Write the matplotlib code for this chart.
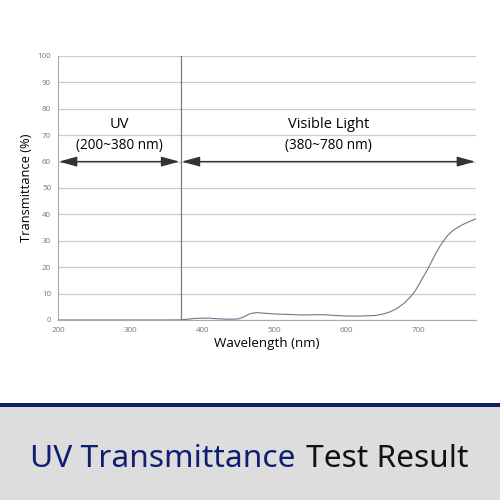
import matplotlib.pyplot as plt
from matplotlib.patches import Rectangle

# transmittance curve
wavelength = [200, 250, 300, 350, 370, 380, 390, 400, 410, 420, 430, 440, 450,
              458, 465, 470, 476, 485, 500, 520, 540, 560, 570, 580, 600, 620,
              640, 650, 660, 670, 680, 690, 695, 700, 705, 710, 715, 720, 725,
              730, 735, 740, 745, 750, 755, 760, 765, 770, 775, 780]
transmittance = [0, 0, 0, 0, 0.05, 0.3, 0.6, 0.7, 0.7, 0.5, 0.35, 0.3, 0.4,
                 1.2, 2.2, 2.6, 2.8, 2.6, 2.3, 2.1, 1.9, 2.0, 2.0, 1.8, 1.5, 1.5,
                 1.7, 2.2, 3.0, 4.3, 6.3, 9.0, 10.8, 13.0, 15.5, 17.8, 20.3, 23.0,
                 25.6, 28.0, 30.0, 31.8, 33.2, 34.3, 35.1, 35.9, 36.6, 37.2, 37.8, 38.3]

x_ticks = [200, 300, 400, 500, 600, 700]
y_ticks = list(range(0, 101, 10))
boundary = 370
arrow_level = 60

FONT = ["Open Sans", "DejaVu Sans"]

fig = plt.figure(figsize=(5, 5), dpi=100)
ax = fig.add_axes([0.116, 0.36, 0.836, 0.528])

ax.plot(wavelength, transmittance, color="#6b7890", lw=0.8, zorder=3)
ax.axvline(boundary, color="#7a7a7a", lw=0.9, zorder=2)

ax.set_xlim(200, 780)
ax.set_ylim(0, 100)
ax.set_xticks(x_ticks)
ax.set_yticks(y_ticks)
ax.tick_params(length=0, labelsize=5.8, labelcolor="#777777", pad=5)
for lbl in ax.get_xticklabels() + ax.get_yticklabels():
    lbl.set_family(FONT)
ax.grid(axis="y", color="#cccccc", lw=0.9)
for side in ["top", "right"]:
    ax.spines[side].set_visible(False)
for side in ["left", "bottom"]:
    ax.spines[side].set_color("#aaaaaa")
    ax.spines[side].set_linewidth(0.8)

ax.set_ylabel("Transmittance (%)", family=FONT, fontsize=9.3, labelpad=3)
ax.set_xlabel("Wavelength (nm)", family=FONT, fontsize=9.6, labelpad=2)

arrow = dict(arrowstyle="<|-|>,head_length=1.1,head_width=0.3", color="#333333",
             lw=1.0, shrinkA=0, shrinkB=0)
ax.annotate("", xy=(201, arrow_level), xytext=(boundary - 1.5, arrow_level), arrowprops=arrow)
ax.annotate("", xy=(boundary + 1.5, arrow_level), xytext=(779, arrow_level), arrowprops=arrow)

ax.text(285, 74, "UV", ha="center", va="center", family=FONT, fontsize=10.5)
ax.text(285, 66, "(200~380 nm)", ha="center", va="center", family=FONT, fontsize=9.8)
ax.text(575, 74, "Visible Light", ha="center", va="center", family=FONT, fontsize=10.5)
ax.text(575, 66, "(380~780 nm)", ha="center", va="center", family=FONT, fontsize=9.8)

# bottom banner
fig.patches.append(Rectangle((0, 0), 1, 0.186, transform=fig.transFigure,
                             facecolor="#dddddd", edgecolor="none"))
fig.patches.append(Rectangle((0, 0.186), 1, 0.008, transform=fig.transFigure,
                             facecolor="#0d1f6b", edgecolor="none"))
fig.text(0.592, 0.066, "UV Transmittance", ha="right", va="baseline",
         family=["Noto Sans", "DejaVu Sans"], fontsize=22.8, color="#0f1d72")
fig.text(0.613, 0.066, "Test Result", ha="left", va="baseline",
         family=["Noto Sans", "DejaVu Sans"], fontsize=22.8, color="#111111")

fig.savefig("out.png", dpi=100)
